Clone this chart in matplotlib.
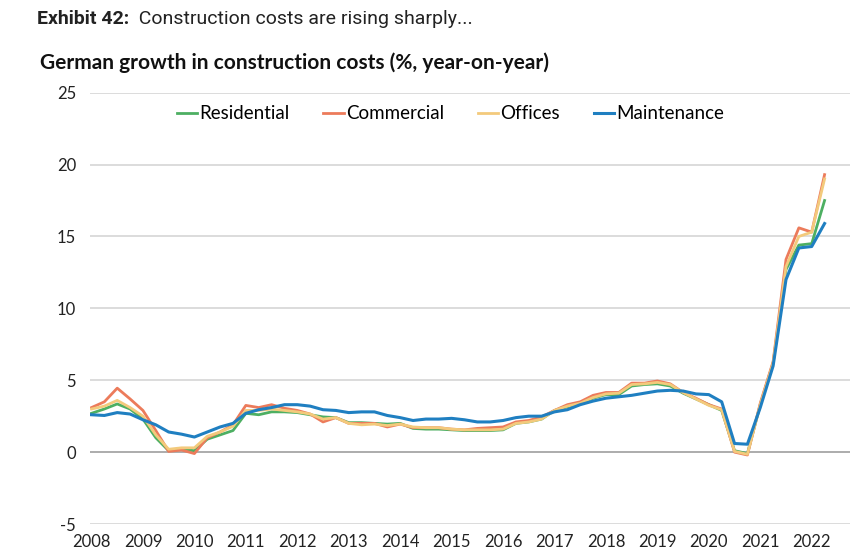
import numpy as np
import matplotlib
matplotlib.use("Agg")
import matplotlib.pyplot as plt

plt.rcParams["font.family"] = ["Lato", "DejaVu Sans"]
plt.rcParams["axes.unicode_minus"] = False

# ---- Data: quarterly, 2008 Q1 .. 2022 Q2 ----
years = list(range(2008, 2023))
residential = [2.7, 3.0, 3.35, 3.0,   2.3, 1.0, 0.1, 0.2,   0.1, 0.9, 1.2, 1.5,
               2.7, 2.6, 2.8, 2.8,   2.75, 2.6, 2.45, 2.4, 2.05, 2.05, 2.0, 1.95,
               2.0, 1.65, 1.6, 1.6,  1.55, 1.5, 1.5, 1.5,  1.55, 2.0, 2.1, 2.3,
               2.9, 3.15, 3.4, 3.75, 4.0, 4.0, 4.6, 4.7,   4.75, 4.6, 4.1, 3.7,
               3.3, 2.9, 0.1, -0.1,  3.3, 6.2, 12.7, 14.4, 14.5, 17.5]
commercial = [3.1, 3.5, 4.45, 3.7,  2.9, 1.5, 0.05, 0.15, -0.1, 1.0, 1.4, 1.9,
              3.25, 3.1, 3.3, 3.05, 2.9, 2.65, 2.1, 2.4,  2.0, 2.0, 2.0, 1.75,
              1.95, 1.7, 1.7, 1.7,  1.6, 1.55, 1.65, 1.7, 1.75, 2.1, 2.2, 2.45,
              2.9, 3.3, 3.5, 3.95,  4.15, 4.15, 4.8, 4.8, 4.95, 4.75, 4.15, 3.75,
              3.3, 3.0, 0.0, -0.2,  3.4, 6.3, 13.4, 15.6, 15.3, 19.3]
offices = [3.0, 3.2, 3.6, 3.1,   2.5, 1.2, 0.2, 0.3,   0.3, 1.1, 1.4, 1.8,
           2.9, 2.9, 3.0, 2.9,   2.8, 2.65, 2.3, 2.4,  2.0, 1.9, 1.95, 1.85,
           1.95, 1.75, 1.7, 1.7, 1.6, 1.55, 1.55, 1.55, 1.6, 2.0, 2.1, 2.3,
           2.9, 3.2, 3.4, 3.8,   4.05, 4.1, 4.7, 4.75, 4.85, 4.7, 4.15, 3.7,
           3.25, 2.95, 0.05, -0.15, 3.3, 6.2, 12.9, 15.0, 15.3, 19.0]
maintenance = [2.6, 2.55, 2.75, 2.65, 2.25, 1.9, 1.4, 1.25, 1.05, 1.4, 1.75, 2.0,
               2.7, 2.95, 3.1, 3.3,   3.3, 3.2, 2.95, 2.9,  2.75, 2.8, 2.8, 2.55,
               2.4, 2.2, 2.3, 2.3,    2.35, 2.25, 2.1, 2.1, 2.2, 2.4, 2.5, 2.5,
               2.8, 2.95, 3.3, 3.55,  3.75, 3.85, 3.95, 4.1, 4.25, 4.3, 4.25, 4.05,
               4.0, 3.5, 0.6, 0.55,   3.1, 6.0, 12.0, 14.2, 14.3, 15.9]

t = 2008 + np.arange(len(residential)) / 4.0

fig = plt.figure(figsize=(8.65, 5.53), dpi=100)
ax = fig.add_axes([0.104, 0.0524, 0.879, 0.78])

ax.plot(t, residential, color="#4DAF62", lw=2, label="Residential")
ax.plot(t, commercial, color="#EC7B5B", lw=2, label="Commercial")
ax.plot(t, offices, color="#F3CA7C", lw=2, label="Offices")
ax.plot(t, maintenance, color="#1F7FC1", lw=2.2, label="Maintenance")

ax.set_ylim(-5, 25)
ax.set_yticks(range(-5, 30, 5))
ax.set_xlim(2007.97, 2022.75)
ax.set_xticks(years)
ax.set_xticklabels([str(y) for y in years])
ax.tick_params(length=0, labelsize=12, colors="#222222")
ax.tick_params(axis="x", pad=7)
ax.tick_params(axis="y", pad=10)
for s in ax.spines.values():
    s.set_visible(False)
for v in range(-5, 30, 5):
    ax.axhline(v, color="#A6A6A6" if v == 0 else "#D9D9D9", lw=1.3, zorder=0)

ax.legend(loc="upper center", bbox_to_anchor=(0.474, 1.01), ncol=4, frameon=False,
          fontsize=13.5, handlelength=1.1, handletextpad=0.1, columnspacing=1.8)

# ---- Titles ----
t1 = fig.text(0.043, 0.965, "Exhibit 42:", fontsize=14, fontweight="bold",
              family="Roboto", color="#222222", va="center")
ax.annotate("  Construction costs are rising sharply...", xy=(1, 0.5),
            xycoords=t1, va="center", ha="left", fontsize=14,
            family="Roboto", color="#222222", annotation_clip=False)
fig.text(0.046, 0.887, "German growth in construction costs (%, year-on-year)",
         fontsize=15, fontweight="bold", color="#111111", va="center")

fig.savefig("out.png", dpi=100)
